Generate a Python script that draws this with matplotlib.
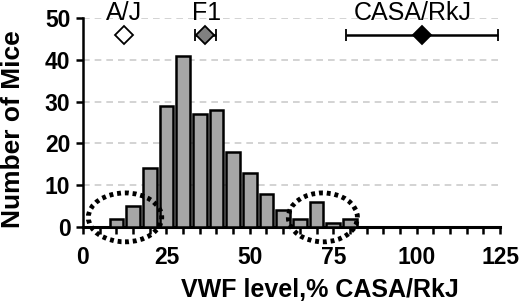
import matplotlib
matplotlib.use("Agg")
import matplotlib.pyplot as plt
from matplotlib.patches import Ellipse

plt.rcParams["font.family"] = ["Liberation Sans", "DejaVu Sans"]

# histogram data (bin centres, % CASA/RkJ)
bin_centers = [10, 15, 20, 25, 30, 35, 40, 45, 50, 55, 60, 65, 70, 75, 80]
mouse_counts = [2, 5, 14, 29, 41, 27, 28, 18, 13, 8, 4, 2, 6, 1, 2]

# strain means with ranges
strains = ["A/J", "F1", "CASA/RkJ"]
strain_means = [12.4, 36.7, 101.7]
strain_lo = [12.4, 33.6, 78.8]
strain_hi = [12.4, 39.9, 124.3]
strain_fill = ["white", "#808080", "black"]
strain_label_x = [12.3, 37.1, 98.8]

y_ticks = [0, 10, 20, 30, 40, 50]
x_ticks = [0, 25, 50, 75, 100, 125]

fig = plt.figure(figsize=(5.2, 3.08), dpi=100)
ax = fig.add_axes([0.1596, 0.263, 0.802, 0.6786])

ax.bar(bin_centers, mouse_counts, width=4.1, color="#a6a6a6",
       edgecolor="black", linewidth=1.8, zorder=3)

for i, name in enumerate(strains):
    m = strain_means[i]
    ax.errorbar(m, 46, xerr=[[m - strain_lo[i]], [strain_hi[i] - m]],
                fmt="D", color="black", mfc=strain_fill[i], mec="black",
                ms=9.5, mew=1.3, elinewidth=1.8, capsize=4, capthick=1.8,
                zorder=4)
    ax.text(strain_label_x[i], 51.1, name, ha="center", va="center",
            fontsize=18, clip_on=False)

for cx, w in [(12.6, 22.0), (71.9, 20.7)]:
    ax.add_patch(Ellipse((cx, 2.3), w, 11.7, fill=False, edgecolor="black",
                         linewidth=3.5, linestyle=(0, (0.8, 0.8)),
                         clip_on=False, zorder=5))

ax.set_xlim(0, 125)
ax.set_ylim(0, 50)
ax.set_xticks(x_ticks)
ax.set_xticks(range(0, 126, 5), minor=True)
ax.set_yticks(y_ticks)
for y in y_ticks[1:]:
    ax.axhline(y, color="#cccccc", linestyle=(0, (4, 3)), linewidth=1.2,
               zorder=1)

ax.spines["top"].set_visible(False)
ax.spines["right"].set_visible(False)
ax.spines["left"].set_linewidth(1.8)
ax.spines["bottom"].set_linewidth(2.2)
ax.tick_params(axis="x", which="both", direction="out", length=5, width=1.8,
               labelsize=16.5, pad=9)
ax.tick_params(axis="y", direction="out", length=5, width=1.8,
               labelsize=16.5, pad=4)
for lab in ax.get_xticklabels() + ax.get_yticklabels():
    lab.set_fontweight("bold")

ax.set_xlabel("VWF level,% CASA/RkJ", fontsize=18, fontweight="bold",
              va="center")
ax.xaxis.set_label_coords(0.568, -0.30)
ax.set_ylabel("Number of Mice", fontsize=19, fontweight="bold", va="center")
ax.yaxis.set_label_coords(-0.168, 0.469)

fig.savefig("out.png", dpi=100)
